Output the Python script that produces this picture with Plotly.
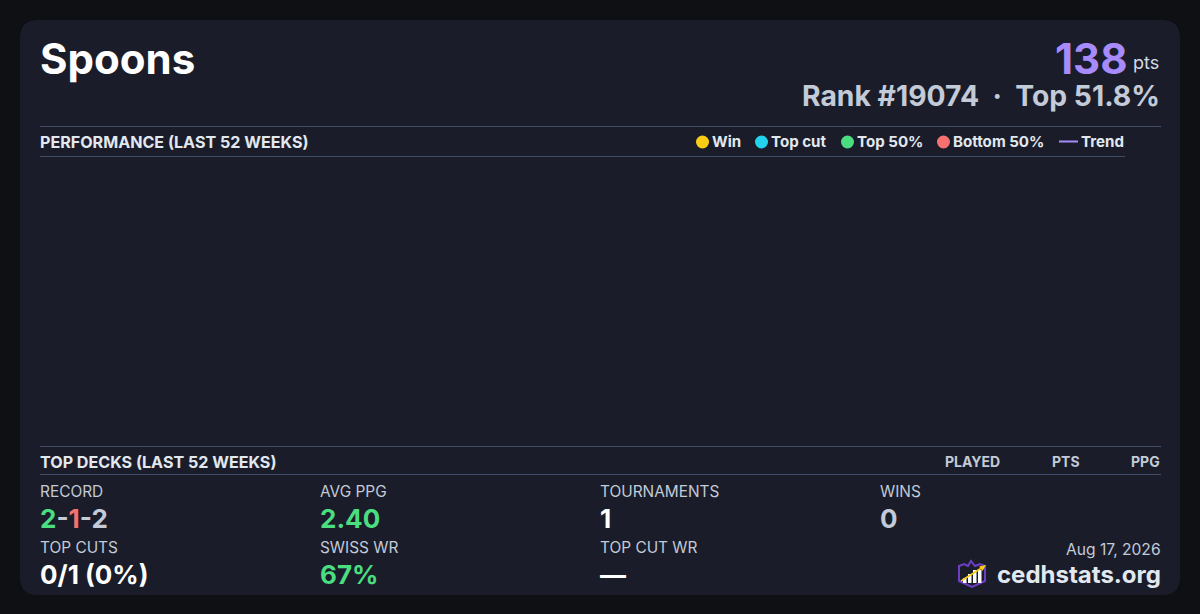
import plotly.graph_objects as go

FONT = "Inter"
PAGE = "#0e1014"
CARD = "#1a1d29"
RULE = "#414c66"
WHITE = "#ffffff"
SOFT = "#e2e8f0"
GREY = "#c3cad8"
PURPLE = "#a78bfa"
GREEN = "#4ade80"
RED = "#f87171"
YELLOW = "#facc15"
CYAN = "#22d3ee"

deck_name = "Spoons"
points = "138"
rank_line = "Rank #19074\u00a0\u00a0·\u00a0\u00a0Top 51.8%"
legend_labels = ["Win", "Top cut", "Top 50%", "Bottom 50%"]
legend_colors = [YELLOW, CYAN, GREEN, RED]
table_columns = ["PLAYED", "PTS", "PPG"]
record = ["2", "1", "2"]
stat_labels = ["RECORD", "AVG PPG", "TOURNAMENTS", "WINS", "TOP CUTS", "SWISS WR", "TOP CUT WR"]
stat_values = [None, "2.40", "1", "0", "0/1 (0%)", "67%", "—"]
stat_colors = [None, GREEN, WHITE, GREY, WHITE, GREEN, WHITE]

fig = go.Figure()


def text(x, y, s, size, color, weight=400, anchor="left"):
    fig.add_annotation(x=x, y=y, text=s, showarrow=False, xanchor=anchor, yanchor="middle",
                       borderpad=0, borderwidth=0,
                       font=dict(family=FONT, size=size, color=color, weight=weight))


def rule(x0, x1, y):
    fig.add_shape(type="line", x0=x0, x1=x1, y0=y, y1=y, line=dict(color=RULE, width=1))


# card
r = 18
fig.add_shape(type="path", line_width=0, fillcolor=CARD, layer="below",
              path=f"M {20+r} 20 L {1180-r} 20 Q 1180 20 1180 {20+r} L 1180 {595-r} Q 1180 595 {1180-r} 595 "
                   f"L {20+r} 595 Q 20 595 20 {595-r} L 20 {20+r} Q 20 20 {20+r} 20 Z")

# header
text(40, 58, deck_name, 42, WHITE, 700)
text(1127.5, 58, points, 42, PURPLE, 700, "right")
text(1159, 62, "pts", 18, "#d5dbe6", 400, "right")
text(1160, 96, rank_line, 28.3, GREY, 700, "right")

# performance section
rule(40, 1161, 126.5)
rule(40, 1125, 156.5)
text(40, 142, "PERFORMANCE (LAST 52 WEEKS)", 16.1, SOFT, 700)
for label, color, dot_x, text_x in zip(legend_labels, legend_colors, [702.5, 761.5, 847.5, 943.5], [712, 771, 857, 953]):
    fig.add_shape(type="circle", x0=dot_x-6.5, x1=dot_x+6.5, y0=135.5, y1=148.5, fillcolor=color, line_width=0)
    text(text_x, 141.5, label, 15.1, SOFT, 700)
fig.add_shape(type="line", x0=1059, x1=1078, y0=141.5, y1=141.5, line=dict(color=PURPLE, width=2))
text(1081, 141.5, "Trend", 15.1, SOFT, 700)

# top decks section
rule(40, 1161, 446.5)
rule(40, 1161, 474.5)
text(40, 462, "TOP DECKS (LAST 52 WEEKS)", 16.1, SOFT, 700)
for col, x in zip(table_columns, [1000, 1080, 1160]):
    text(x, 461.5, col, 14, GREY, 700, "right")

# stat grid
xs = [40, 320, 600, 880, 40, 320, 600]
label_ys = [491.5, 491.5, 491.5, 491.5, 547.5, 547.5, 547.5]
value_ys = [518, 518, 518, 518, 574, 574, 574]
for i, label in enumerate(stat_labels):
    text(xs[i], label_ys[i], label, 15.4, GREY, 400)
    if stat_values[i] is not None:
        text(xs[i], value_ys[i], stat_values[i], 26, stat_colors[i], 700)
record_text = (f'<span style="color:{GREEN}">{record[0]}</span>-<span style="color:{RED}">{record[1]}</span>'
               f'-<span style="color:{GREY}">{record[2]}</span>')
text(40, 518, record_text, 26, GREY, 700)

# footer
text(1161, 549.5, "Aug 17, 2026", 15.6, GREY, 400, "right")
text(1160.5, 574, "cedhstats.org", 24, SOFT, 700, "right")

# logo
fig.add_shape(type="path", line=dict(color="#6d3fc4", width=2), fillcolor="rgba(0,0,0,0)",
              path="M 959 566 L 964 564 L 968 566 L 971 561 L 975 566 L 980 564 L 985 566 L 985 581 L 972 587 L 959 581 Z")
for x0, y0 in zip([963, 968, 973, 978], [578, 574, 570, 570]):
    fig.add_shape(type="rect", x0=x0, x1=x0+3.5, y0=y0, y1=583, fillcolor=WHITE, line_width=0)
fig.add_shape(type="line", x0=961, y0=581, x1=983, y1=567, line=dict(color=YELLOW, width=1.5))
fig.add_shape(type="path", line_width=0, fillcolor=YELLOW, path="M 986 565 L 979 566.5 L 982.5 571 Z")

fig.update_layout(width=1200, height=614, autosize=False, margin=dict(l=0, r=0, t=0, b=0),
                  paper_bgcolor=PAGE, plot_bgcolor=PAGE, showlegend=False,
                  xaxis=dict(range=[0, 1200], visible=False, fixedrange=True),
                  yaxis=dict(range=[614, 0], visible=False, fixedrange=True))

fig.write_html("out.html", config={"displayModeBar": False},
               post_script="document.body.style.margin='0';document.body.style.background='%s';" % PAGE)
